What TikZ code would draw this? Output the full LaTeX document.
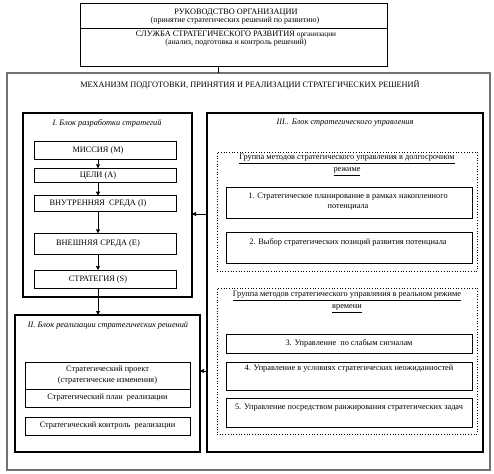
\documentclass[tikz,border=0pt]{standalone}
\usepackage{fontspec}
\setmainfont{Liberation Serif}
\usetikzlibrary{arrows.meta}
\begin{document}
\begin{tikzpicture}[x=1pt,y=-1pt,
  every node/.style={inner sep=0pt,outer sep=0pt},
  txt/.style={font=\fontsize{8.3}{10.5}\selectfont,align=center},
  gtxt/.style={font=\fontsize{8.3}{12}\selectfont,align=center},
  small/.style={font=\fontsize{8}{9}\selectfont,align=center},
  ital/.style={font=\fontsize{8.3}{10}\selectfont\itshape,align=center},
  bx/.style={draw=black,line width=0.8pt,anchor=north west},
  blk/.style={draw=black,line width=2.6pt,anchor=north west},
  grp/.style={draw=black,line width=0.7pt,dotted,anchor=north west},
  frame/.style={draw=black!55,line width=1.1pt,anchor=north west},
  arr/.style={line width=0.7pt,-{Triangle[length=4pt,width=4pt]}},
  ln/.style={line width=0.7pt}
]
\useasboundingbox (0,0) rectangle (494,473);
% top box
\node[bx,minimum width=307pt,minimum height=63pt] (top) at (80,3) {};
\draw[line width=1.6pt] (top.west |- 0,28.5) -- (top.east |- 0,28.5);
\node[txt] (t1) at (236,13) {РУКОВОДСТВО ОРГАНИЗАЦИИ};
\node[small] (t2) at (235,21) {(принятие стратегических решений по развитию)};
\node[txt] (t3) at (236,35) {СЛУЖБА СТРАТЕГИЧЕСКОГО РАЗВИТИЯ {\fontsize{7.3}{8}\selectfont организации}};
\node[small] (t4) at (236,43) {(анализ, подготовка и контроль решений)};
% outer frame
\node[frame,minimum width=483pt,minimum height=397pt] (outer) at (7,73) {};
\coordinate (cx) at (218,0);
\draw[ln] (top.south -| cx) -- (outer.north -| cx);
\node[txt] (mt) at (250,85) {МЕХАНИЗМ ПОДГОТОВКИ, ПРИНЯТИЯ И РЕАЛИЗАЦИИ СТРАТЕГИЧЕСКИХ РЕШЕНИЙ};
% block I
\node[blk,minimum width=169pt,minimum height=184pt] (b1) at (23,113) {};
\node[ital] (b1t) at (107,123) {I. Блок разработки стратегий};
\node[bx,minimum width=142pt,minimum height=18.3pt] (m) at (34,141) {};
\node[bx,minimum width=142pt,minimum height=14.4pt] (a) at (34,168.3) {};
\node[bx,minimum width=142pt,minimum height=15.3pt] (i) at (34,195.7) {};
\node[bx,minimum width=142pt,minimum height=21pt] (e) at (34,233.3) {};
\node[bx,minimum width=142pt,minimum height=18.3pt] (s) at (34,270) {};
\coordinate (ax) at (98,0);
\node[txt] at (m.center -| ax) {МИССИЯ (M)};
\node[txt] at (a.center -| ax) {ЦЕЛИ (A)};
\node[txt] at (i.center -| ax) {ВНУТРЕННЯЯ\ \ СРЕДА (I)};
\node[txt] at (e.center -| ax) {ВНЕШНЯЯ СРЕДА (E)};
\node[txt] at (s.center -| ax) {СТРАТЕГИЯ (S)};
\draw[arr] (m.south -| ax) -- (a.north -| ax);
\draw[arr] (a.south -| ax) -- (i.north -| ax);
\draw[arr] (i.south -| ax) -- (e.north -| ax);
\draw[arr] (e.south -| ax) -- (s.north -| ax);
% block II
\node[blk,minimum width=185pt,minimum height=137pt] (b2) at (15,315) {};
\draw[arr] (s.south -| ax) -- (b2.north -| ax);
\node[ital] (b2t) at (108,325) {II. Блок реализации стратегических решений};
\node[bx,minimum width=165pt,minimum height=45pt] (pr) at (25,362) {};
\draw[line width=0.8pt] (pr.west |- 0,389) -- (pr.east |- 0,389);
\node[txt] at (107.5,375) {Стратегический проект\\(стратегические изменения)};
\node[txt] at (107.5,398) {Стратегический план\ \ реализации};
\node[bx,minimum width=165pt,minimum height=18pt] (ctl) at (25,417) {};
\node[txt] at (ctl.center) {Стратегический контроль\ \ реализации};
% block III
\node[blk,minimum width=276pt,minimum height=339pt] (b3) at (207,113) {};
\node[ital] (b3t) at (345,123) {III.. Блок стратегического управления};
\node[grp,minimum width=260pt,minimum height=119pt] (g1) at (217,152) {};
\node[gtxt] (g1t) at (347,165) {\underline{Группа методов стратегического управления в долгосрочном}\\\underline{режиме}};
\node[bx,minimum width=246pt,minimum height=31pt] (k1) at (226,187) {};
\node[txt] at (348,201.5) {1. Стратегическое планирование в рамках накопленного\\потенциала};
\node[bx,minimum width=246pt,minimum height=31pt] (k2) at (226,232) {};
\node[txt] at (348,242) {2. Выбор стратегических позиций развития потенциала};
\node[grp,minimum width=260pt,minimum height=146pt] (g2) at (217,288) {};
\node[gtxt] (g2t) at (347,302) {\underline{Группа методов стратегического управления в реальном режиме}\\\underline{времени}};
\node[bx,minimum width=246pt,minimum height=19pt] (k3) at (226,334) {};
\node[txt] at (k3.center) {3. Управление\ \ по слабым сигналам};
\node[bx,minimum width=246pt,minimum height=28pt] (k4) at (226,362) {};
\node[txt] at (349,369) {4. Управление в условиях стратегических неожиданностей};
\node[bx,minimum width=246pt,minimum height=29pt] (k5) at (226,398) {};
\node[txt] at (349,408) {5. Управление посредством ранжирования стратегических задач};
% arrows from block III
\coordinate (y1) at (0,214);
\coordinate (y2) at (0,371);
\draw[arr] (b3.west |- y1) -- (b1.east |- y1);
\draw[arr] (b3.west |- y2) -- (b2.east |- y2);
\end{tikzpicture}
\end{document}
